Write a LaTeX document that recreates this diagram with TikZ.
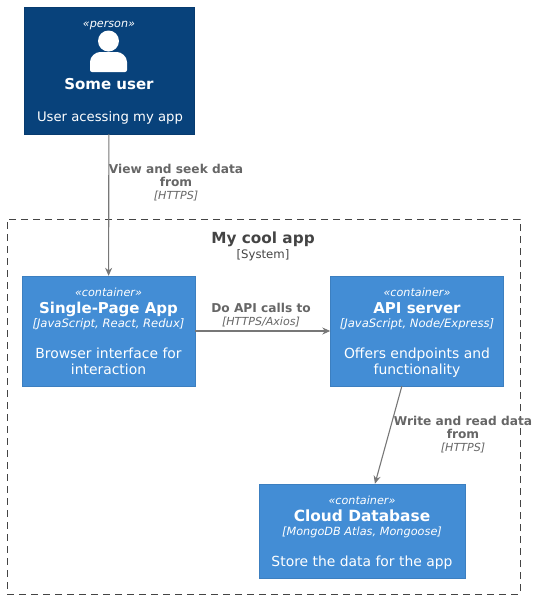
\documentclass[tikz,border=0pt]{standalone}
\usepackage{fontspec}
\setmainfont{DejaVu Sans}
\usepackage{xcolor}
\usepackage{tikz}
\usetikzlibrary{arrows.meta,positioning,calc}
\definecolor{personblue}{HTML}{08427B}
\definecolor{personedge}{HTML}{073B6F}
\definecolor{containerblue}{HTML}{438DD5}
\definecolor{containeredge}{HTML}{3C7FC0}
\definecolor{relgray}{HTML}{666666}
\definecolor{linegray}{HTML}{777777}
\definecolor{titlegray}{HTML}{444444}
\newcommand{\stereoline}[1]{{\fontsize{11.2}{12}\selectfont\itshape\rule{0pt}{11.5pt}#1}}
\newcommand{\nameline}[1]{{\fontsize{15}{12}\selectfont\bfseries #1}}
\newcommand{\techline}[1]{{\fontsize{11.6}{12}\selectfont\itshape #1}}
\newcommand{\descline}[1]{{\fontsize{13.9}{12}\selectfont\vphantom{y}#1}}
\newcommand{\relname}[1]{{\fontsize{12.2}{12}\selectfont\bfseries #1}}
\newcommand{\reltech}[1]{{\fontsize{11.1}{12}\selectfont\itshape #1}}
\tikzset{
  tightlines/.style={execute at begin node={\baselineskip=12pt\lineskiplimit=-100pt\relax}},
  boxbase/.style={draw, text=white, align=center, inner sep=0pt, anchor=center, tightlines},
  personbox/.style={boxbase, fill=personblue, draw=personedge},
  containerbox/.style={boxbase, fill=containerblue, draw=containeredge},
  rellabel/.style={text=relgray, align=center, inner sep=0pt, tightlines},
  rel/.style={draw=linegray, line width=1.1pt, -{Stealth[length=8pt,width=7pt]}}
}
\begin{document}
\begin{tikzpicture}[x=1pt,y=-1pt]
\useasboundingbox (0,0) rectangle (540,598);
% system boundary
\node[draw=titlegray, dashed, dash pattern=on 7pt off 5pt, line width=0.7pt, minimum width=513pt, minimum height=375pt, inner sep=0pt] (boundary) at (263.5,406.5) {};
\node[text=titlegray, align=center, inner sep=0pt, tightlines] (boundarytitle) at (263,246.5) {{\fontsize{15.3}{12}\selectfont\bfseries My cool app}\\[3.5pt]{\fontsize{11.7}{12}\selectfont [System]}};
% boxes
\node[personbox, minimum width=170pt, minimum height=127pt] (user) at (109,70.5) {};
\node[text=white, align=center, inner sep=0pt, anchor=base] (userstereo) at (109,27) {\stereoline{«person»}};
\node[text=white, align=center, inner sep=0pt, anchor=base] (username) at (109,89) {\nameline{Some user}};
\node[text=white, align=center, inner sep=0pt, anchor=base] (userdesc) at (110,121) {{\fontsize{13.2}{12}\selectfont User acessing my app}};
\fill[white] (108.5,41) circle (10.5pt);
\fill[white, rounded corners=2pt] (90,72) -- (90,64) .. controls (90,56) and (96,52) .. (102,52) -- (115,52) .. controls (121,52) and (127,56) .. (127,64) -- (127,72) -- cycle;
\node[containerbox, minimum width=173pt, minimum height=110pt] (spa) at (108.5,331) {\stereoline{«container»}\\[5pt]\nameline{Single-Page App}\\[2pt]\techline{[JavaScript, React, Redux]}\\[19pt]\descline{Browser interface for}\\[4pt]\descline{interaction}};
\node[containerbox, minimum width=173pt, minimum height=110pt] (api) at (417,331) {\stereoline{«container»}\\[5pt]\nameline{API server}\\[2pt]\techline{[JavaScript, Node/Express]}\\[19pt]\descline{Offers endpoints and}\\[4pt]\descline{functionality}};
\node[containerbox, minimum width=206pt, minimum height=94pt] (db) at (362,531) {\stereoline{«container»}\\[5pt]{\fontsize{15.4}{12}\selectfont\bfseries Cloud Database}\\[2pt]{\fontsize{11.3}{12}\selectfont\itshape [MongoDB Atlas, Mongoose]}\\[19pt]\descline{Store the data for the app}};
% connectors
\draw[rel] (user) -- (spa);
\draw[rel] (spa) -- (api);
\draw[rel] (api) -- (db);
% connector labels
\node[rellabel] (userlabel) at (176,183) {\relname{View and seek data}\\[1pt]\relname{from}\\[1pt]\reltech{[HTTPS]}};
\node[rellabel] (spalabel) at (261,315) {\relname{Do API calls to}\\[1pt]\reltech{[HTTPS/Axios]}};
\node[rellabel] (apilabel) at (463,435) {\relname{Write and read data}\\[1pt]\relname{from}\\[1pt]\reltech{[HTTPS]}};
\end{tikzpicture}
\end{document}
